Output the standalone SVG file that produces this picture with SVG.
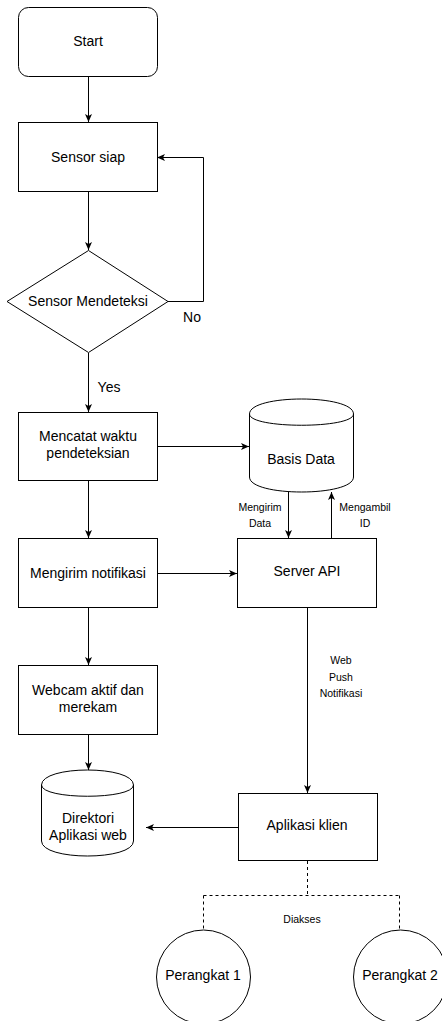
<svg xmlns="http://www.w3.org/2000/svg" width="442" height="1021" viewBox="0 0 442 1021">
<style>
.n{fill:#fff;stroke:#000;stroke-width:1}
.t{font-family:"Liberation Sans",Arial,sans-serif;font-size:14px;fill:#000;text-anchor:middle}
.s{font-family:"Liberation Sans",Arial,sans-serif;font-size:10.5px;fill:#000;text-anchor:middle}
.c{fill:none;stroke:#000;stroke-width:1}
.d{fill:none;stroke:#000;stroke-width:1;stroke-dasharray:3 3}
</style>
<defs>
<marker id="a" markerUnits="userSpaceOnUse" markerWidth="8" markerHeight="8" viewBox="0 0 8 8" refX="8" refY="4" orient="auto">
<path d="M0,0.5 L8,4 L0,7.5 L2,4 z" fill="#000"/>
</marker>
</defs>
<rect width="442" height="1021" fill="#fff"/>
<g id="connectors">
<path class="c" d="M88.5,77 V122" marker-end="url(#a)"/>
<path class="c" d="M88.5,192 V250" marker-end="url(#a)"/>
<path class="c" d="M168,301.5 H203.5 V157.5 H157" marker-end="url(#a)"/>
<path class="c" d="M88.5,353 V412" marker-end="url(#a)"/>
<path class="c" d="M88.5,481 V538" marker-end="url(#a)"/>
<path class="c" d="M88.5,607 V665" marker-end="url(#a)"/>
<path class="c" d="M88.5,735 V770" marker-end="url(#a)"/>
<path class="c" d="M157,446.5 H249" marker-end="url(#a)"/>
<path class="c" d="M157,573.5 H237" marker-end="url(#a)"/>
<path class="c" d="M288.5,492 V538" marker-end="url(#a)"/>
<path class="c" d="M331.5,538 V492" marker-end="url(#a)"/>
<path class="c" d="M307.5,608 V793" marker-end="url(#a)"/>
<path class="c" d="M238,827.5 H146" marker-end="url(#a)"/>
<path class="d" d="M307.5,861 V895.5 M203.5,895.5 H399.5 M203.5,895.5 V930 M399.5,895.5 V930"/>
<text class="t" x="109" y="392">Yes</text>
<text class="t" x="192" y="322">No</text>
<text class="s" x="260" y="511">Mengirim</text>
<text class="s" x="260" y="527">Data</text>
<text class="s" x="365" y="511">Mengambil</text>
<text class="s" x="365" y="527">ID</text>
<text class="s" x="341" y="664">Web</text>
<text class="s" x="341" y="681">Push</text>
<text class="s" x="341" y="697">Notifikasi</text>
<text class="s" x="302" y="923">Diakses</text>
</g>
<g id="start">
<rect class="n" x="18.5" y="7.5" width="139" height="69" rx="10" ry="10"/>
<text class="t" x="88" y="46">Start</text>
</g>
<g id="sensor-siap">
<rect class="n" x="18.5" y="122.5" width="139" height="69"/>
<text class="t" x="88" y="162">Sensor siap</text>
</g>
<g id="sensor-mendeteksi">
<path class="n" d="M88.5,250.5 L168,301.5 L88.5,352.5 L7,301.5 Z"/>
<text class="t" x="88" y="306">Sensor Mendeteksi</text>
</g>
<g id="mencatat">
<rect class="n" x="18.5" y="412.5" width="139" height="68"/>
<text class="t" x="88" y="441">Mencatat waktu</text>
<text class="t" x="88" y="458">pendeteksian</text>
</g>
<g id="mengirim-notifikasi">
<rect class="n" x="18.5" y="538.5" width="139" height="69"/>
<text class="t" x="88" y="578">Mengirim notifikasi</text>
</g>
<g id="webcam">
<rect class="n" x="18.5" y="665.5" width="139" height="69"/>
<text class="t" x="88" y="695">Webcam aktif dan</text>
<text class="t" x="88" y="712">merekam</text>
</g>
<g id="direktori">
<path class="n" d="M41.5,785 C41.5,765 133.5,765 133.5,785 L133.5,841 C133.5,861 41.5,861 41.5,841 Z"/>
<path class="c" d="M41.5,785 C41.5,800 133.5,800 133.5,785"/>
<text class="t" x="88" y="823">Direktori</text>
<text class="t" x="88" y="840">Aplikasi web</text>
</g>
<g id="basis-data">
<path class="n" d="M249.5,414 C249.5,394 353.5,394 353.5,414 L353.5,477 C353.5,497 249.5,497 249.5,477 Z"/>
<path class="c" d="M249.5,414 C249.5,429 353.5,429 353.5,414"/>
<text class="t" x="301" y="464">Basis Data</text>
</g>
<g id="server-api">
<rect class="n" x="237.5" y="538.5" width="139" height="69"/>
<text class="t" x="307" y="576">Server API</text>
</g>
<g id="aplikasi-klien">
<rect class="n" x="238.5" y="793.5" width="139" height="67"/>
<text class="t" x="307" y="830">Aplikasi klien</text>
</g>
<g id="perangkat-1">
<circle class="n" cx="203.5" cy="977" r="47"/>
<text class="t" x="203" y="980">Perangkat 1</text>
</g>
<g id="perangkat-2">
<circle class="n" cx="400.5" cy="977" r="47"/>
<text class="t" x="400" y="980">Perangkat 2</text>
</g>
</svg>
